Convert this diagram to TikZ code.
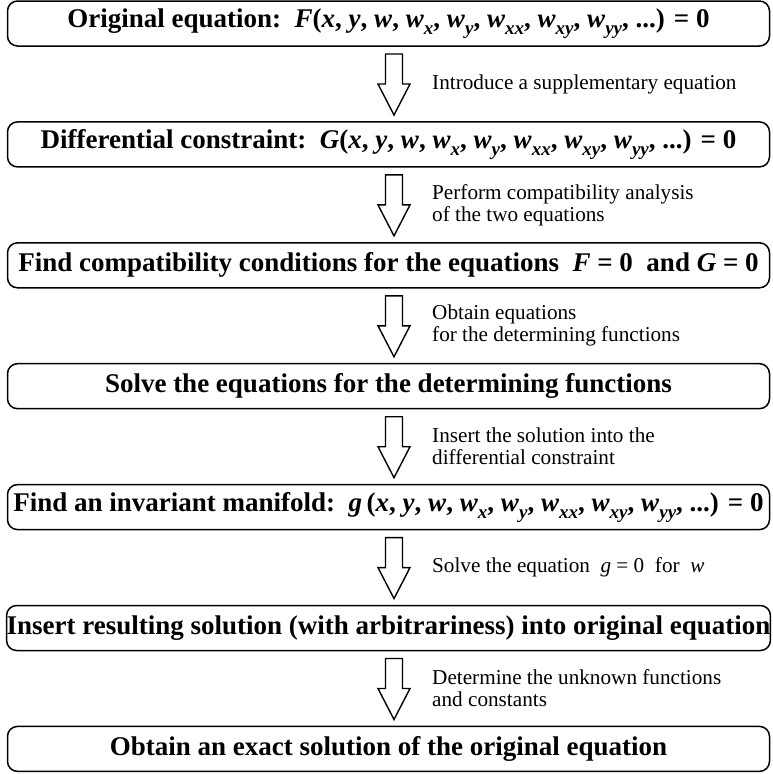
\documentclass[tikz,border=0pt]{standalone}
\usepackage{fontspec}
\setmainfont{Liberation Serif}
\newcommand\bi[1]{\textbf{\textit{#1}}}
\newcommand\ws[1]{\bi{w}\raisebox{-0.26em}{\fontsize{19}{19}\selectfont\bi{#1}}}
\newcommand\args{(\bi{x}, \bi{y}, \bi{w}, \ws{x}, \ws{y}, \ws{xx}, \ws{xy}, \ws{yy}, ...) = 0}
\tikzset{
  stepbox/.style={draw, line width=1.5pt, rounded corners=10pt, minimum width=762pt,
    minimum height=45pt, inner sep=0pt, font=\fontsize{27}{30}\selectfont\bfseries},
  note/.style={anchor=west, align=left, inner sep=0pt, font=\fontsize{21.2}{22}\selectfont},
  pics/blockarrow/.style={code={
    \draw[line width=1.4pt, line join=miter]
      (-8.5,0) -- (8.5,0) -- (8.5,30) -- (16,30) -- (0,61) -- (-16,30) -- (-8.5,30) -- cycle;}}
}
\begin{document}
\begin{tikzpicture}[x=1pt,y=-1pt]
\useasboundingbox (0,0) rectangle (772,774);
\node[stepbox] (b1) at (388.5,23.5) {Original equation:\ \ \bi{F}\args};
\node[stepbox] (b2) at (388.5,144.4) {Differential constraint:\ \ \bi{G}\args};
\node[stepbox] (b3) at (388.5,265.3) {Find compatibility conditions for the equations\ \ \bi{F} = 0\ \ and \bi{G} = 0};
\node[stepbox] (b4) at (388.5,386.2) {Solve the equations for the determining functions};
\node[stepbox] (b5) at (388.5,507.1) {Find an invariant manifold:\ \ \bi{g}\,\args};
\node[stepbox] (b6) at (388.5,628.0) {Insert resulting solution (with arbitrariness) into original equation};
\node[stepbox] (b7) at (388.5,748.9) {Obtain an exact solution of the original equation};

\foreach \k/\c in {1/23.5,2/144.4,3/265.3,4/386.2,5/507.1,6/628.0}{
  \coordinate (a\k) at (394,\c+30.5);
  \pic at (a\k) {blockarrow};
}
\node[note] (n1) at (432,84.0) {Introduce a supplementary equation};
\node[note] (n2) at (432,204.9) {Perform compatibility analysis\\of the two equations};
\node[note] (n3) at (432,325.8) {Obtain equations\\for the determining functions};
\node[note] (n4) at (432,446.7) {Insert the solution into the\\differential constraint};
\node[note] (n5) at (432,567.6) {Solve the equation\ \ \textit{g} = 0\ \ for\ \ \textit{w}};
\node[note] (n6) at (432,688.5) {Determine the unknown functions\\and constants};
\end{tikzpicture}
\end{document}
